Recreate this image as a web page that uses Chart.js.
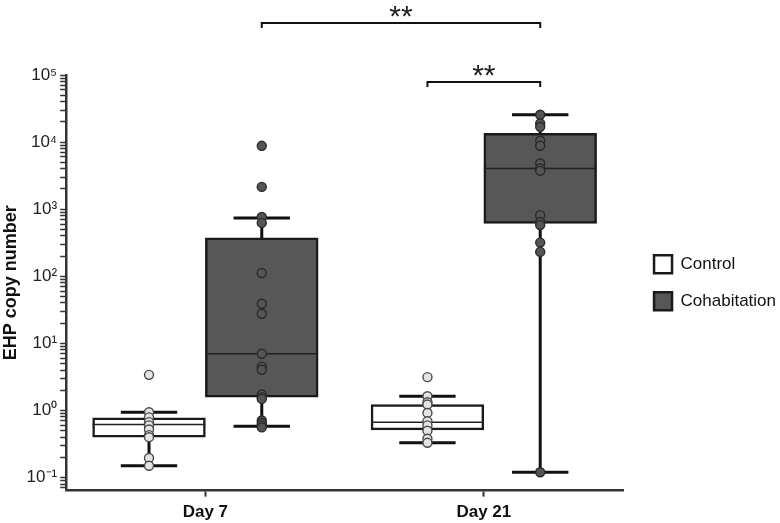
<!DOCTYPE html>
<html>
<head>
<meta charset="utf-8">
<script src="https://cdn.jsdelivr.net/npm/chart.js@4.4.0/dist/chart.umd.min.js"></script>
<style>
  html, body { margin: 0; padding: 0; background: #fff; }
  #wrap { width: 780px; height: 523px; }
</style>
</head>
<body>
<div id="wrap"><canvas id="miGrafico"></canvas></div>
<script>
// categorias y series
const groups = ['Day 7', 'Day 21'];
const seriesNames = ['Control', 'Cohabitation'];

// estadisticos de las cajas [Day 7, Day 21]
const controlLow = [0.15, 0.33];
const controlQ1 = [0.40, 0.515];
const controlMed = [0.62, 0.67];
const controlQ3 = [0.78, 1.22];
const controlHigh = [0.94, 1.63];

const cohabLow = [0.58, 0.12];
const cohabQ1 = [1.58, 612];
const cohabMed = [7.0, 4050];
const cohabQ3 = [373, 13500];
const cohabHigh = [741, 25600];

// puntos individuales
const controlDay7 = [3.4, 0.94, 0.79, 0.67, 0.60, 0.52, 0.43, 0.40, 0.196, 0.15];
const controlDay21 = [3.14, 1.63, 1.33, 1.23, 0.92, 0.69, 0.60, 0.50, 0.38, 0.33];
const cohabDay7 = [8800, 2150, 767, 625, 112, 39, 27.7, 7.0, 4.5, 4.05, 1.73, 1.58, 1.49, 0.71, 0.65, 0.60, 0.56];
const cohabDay21 = [25600, 19000, 16900, 10500, 8800, 4800, 4050, 3730, 815, 645, 580, 318, 231, 0.12];

// ticks del eje log
const decades = [-2, -1, 0, 1, 2, 3, 4, 5];
const mantissas = [1, 2, 3, 4, 5, 6, 7, 8, 9];
const yMin = 0.064;
const yMax = 1e5;

// comparaciones significativas [grupo, serie]
const brackets = [
    { from: [0, 1], to: [1, 1], text: '**' },
    { from: [1, 0], to: [1, 1], text: '**' }
];

const catPct = 0.81;
const xOff = [-catPct / 4, catPct / 4];   // centro de cada caja respecto al grupo
const capHalf = catPct / 8;
const boxHalf = catPct / 4;

const font = '"Liberation Sans", Arial, sans-serif';
const sup = { '-': '\u207B', '0': '\u2070', '1': '\u00B9', '2': '\u00B2', '3': '\u00B3', '4': '\u2074', '5': '\u2075', '6': '\u2076', '7': '\u2077', '8': '\u2078', '9': '\u2079' };

function whiskers(si, low, q1, q3, high) {
    const pts = [];
    groups.forEach((g, gi) => {
        const c = gi + xOff[si];
        pts.push({ x: c, y: q3[gi] }, { x: c, y: high[gi] }, { x: c, y: null });
        pts.push({ x: c - capHalf, y: high[gi] }, { x: c + capHalf, y: high[gi] }, { x: c, y: null });
        pts.push({ x: c, y: q1[gi] }, { x: c, y: low[gi] }, { x: c, y: null });
        pts.push({ x: c - capHalf, y: low[gi] }, { x: c + capHalf, y: low[gi] }, { x: c, y: null });
    });
    return pts;
}

function medians(si, med) {
    const pts = [];
    groups.forEach((g, gi) => {
        const c = gi + xOff[si];
        pts.push({ x: c - boxHalf, y: med[gi] }, { x: c + boxHalf, y: med[gi] }, { x: c, y: null });
    });
    return pts;
}

function boxes(si, q1, q3) {
    return groups.map((g, gi) => ({ x: gi + xOff[si], y: [q1[gi], q3[gi]] }));
}

function points(si, gi, values) {
    return values.map(v => ({ x: gi + xOff[si], y: v }));
}

const lineBase = {
    type: 'line', showLine: true, pointRadius: 0,
    spanGaps: false, fill: false, borderColor: '#111', order: 1
};

const datasets = [
    {
        label: seriesNames[0], data: boxes(0, controlQ1, controlQ3),
        backgroundColor: '#ffffff', borderColor: '#1a1a1a', borderWidth: 2.5,
        borderSkipped: false, grouped: false, order: 2
    },
    {
        label: seriesNames[1], data: boxes(1, cohabQ1, cohabQ3),
        backgroundColor: '#575757', borderColor: '#1a1a1a', borderWidth: 2.5,
        borderSkipped: false, grouped: false, order: 2
    },
    Object.assign({}, lineBase, { data: whiskers(0, controlLow, controlQ1, controlQ3, controlHigh), borderWidth: 3 }),
    Object.assign({}, lineBase, { data: whiskers(1, cohabLow, cohabQ1, cohabQ3, cohabHigh), borderWidth: 3 }),
    Object.assign({}, lineBase, { data: medians(0, controlMed), borderWidth: 1.5, borderColor: '#222' }),
    Object.assign({}, lineBase, { data: medians(1, cohabMed), borderWidth: 1.5, borderColor: '#222' })
];

// puntos
[[0, 0, controlDay7], [0, 1, controlDay21], [1, 0, cohabDay7], [1, 1, cohabDay21]].forEach(([si, gi, vals]) => {
    datasets.push({
        type: 'scatter', data: points(si, gi, vals),
        pointRadius: 4.5, pointBorderWidth: 1.4,
        pointBackgroundColor: si === 0 ? '#e4e4e4' : '#555555',
        pointBorderColor: si === 0 ? '#4a4a4a' : '#2a2a2a',
        order: 0
    });
});

const bracketPlugin = {
    id: 'brackets',
    afterLayout(chart) {
        // separa un poco la leyenda del area del grafico
        chart.legend.left += 12;
        chart.legend.right += 12;
    },
    afterDraw(chart) {
        const ctx = chart.ctx;
        const xs = chart.scales.x;
        const top = chart.chartArea.top;
        const levels = [-52, 7];
        ctx.save();
        ctx.strokeStyle = '#111';
        ctx.lineWidth = 2;
        ctx.fillStyle = '#222';
        ctx.font = '30px ' + font;
        ctx.textAlign = 'center';
        brackets.forEach((b, i) => {
            const x1 = xs.getPixelForValue(b.from[0] + xOff[b.from[1]]);
            const x2 = xs.getPixelForValue(b.to[0] + xOff[b.to[1]]);
            const y = top + levels[i];
            ctx.beginPath();
            ctx.moveTo(x1, y + 5);
            ctx.lineTo(x1, y);
            ctx.lineTo(x2, y);
            ctx.lineTo(x2, y + 5);
            ctx.stroke();
            const m = ctx.measureText(b.text);
            const target = y - 12;
            const base = target - (m.actualBoundingBoxDescent - m.actualBoundingBoxAscent) / 2;
            ctx.fillText(b.text, (x1 + x2) / 2, base);
        });
        ctx.restore();
    }
};

const ctx = document.getElementById('miGrafico').getContext('2d');
const miGrafico = new Chart(ctx, {
    type: 'bar',
    data: { datasets: datasets },
    options: {
        responsive: true,
        maintainAspectRatio: false,
        animation: false,
        events: [],
        layout: { padding: { top: 75, right: 6, left: 0, bottom: -6 } },
        datasets: { bar: { categoryPercentage: 1, barPercentage: 1 } },
        scales: {
            x: {
                type: 'linear', min: -0.5, max: 1.5, offset: false,
                afterBuildTicks: axis => { axis.ticks = groups.map((g, i) => ({ value: i })); },
                grid: { display: true, drawOnChartArea: false, offset: false, tickLength: 6, tickWidth: 2, tickColor: '#333' },
                border: { display: true, color: '#333', width: 2.5 },
                ticks: {
                    color: '#111', padding: 6, autoSkip: false,
                    font: { family: font, size: 17, weight: 'bold' },
                    callback: value => groups[value]
                }
            },
            y: {
                type: 'logarithmic', min: yMin, max: yMax,
                afterBuildTicks: axis => {
                    const ticks = [];
                    decades.forEach(d => mantissas.forEach(m => {
                        const v = m * Math.pow(10, d);
                        if (v >= yMin && v <= yMax * 1.0001) ticks.push({ value: v });
                    }));
                    axis.ticks = ticks;
                },
                grid: { display: true, drawOnChartArea: false, tickLength: 6, tickWidth: 1.5, tickColor: '#333' },
                border: { display: true, color: '#333', width: 2.5 },
                ticks: {
                    autoSkip: false, color: '#222', padding: 3,
                    font: { family: font, size: 17 },
                    callback: value => {
                        const e = Math.log10(value);
                        if (Math.abs(e - Math.round(e)) > 1e-6) return '';
                        return '10' + String(Math.round(e)).split('').map(c => sup[c]).join('');
                    }
                },
                title: { display: true, text: 'EHP copy number', color: '#111', padding: { top: 0, bottom: 2 }, font: { family: font, size: 18, weight: 'bold' } }
            }
        },
        plugins: {
            tooltip: { enabled: false },
            legend: {
                position: 'right', align: 'center', fullSize: false,
                labels: {
                    filter: item => item.datasetIndex < 2,
                    boxWidth: 18, boxHeight: 18, padding: 19, color: '#111',
                    font: { family: font, size: 17 }
                }
            }
        }
    },
    plugins: [bracketPlugin]
});
</script>
</body>
</html>
